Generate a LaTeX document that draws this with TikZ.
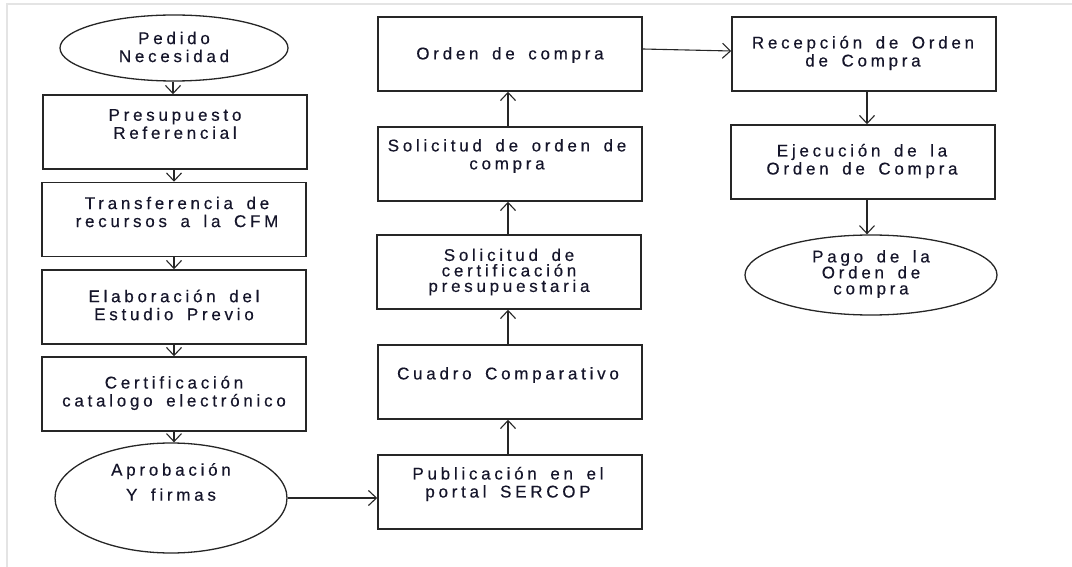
\documentclass[tikz,border=0pt]{standalone}
\usepackage{fontspec}
\setmainfont{Liberation Sans}
\newfontfamily\lspfont[LetterSpace=22,WordSpace=1.6,FakeBold=0.4]{Liberation Sans}
\usetikzlibrary{shapes.geometric,arrows.meta}
\definecolor{edge}{HTML}{262626}
\definecolor{ink}{HTML}{15152A}
\definecolor{frame}{HTML}{E4E4E4}
\tikzset{
  stepbox/.style={draw=edge,line width=1.5pt,rectangle,minimum width=264pt,minimum height=74pt,inner sep=0pt},
  oval/.style={draw=edge,line width=1.3pt,ellipse,inner sep=0pt},
  txt/.style={align=center,text=ink,font=\lspfont\fontsize{17pt}{18pt}\selectfont,inner sep=0pt},
  flow/.style={draw=edge,line width=1.1pt,-{Straight Barb[length=8pt,width=15pt,line width=1.1pt]}}
}
\begin{document}
\begin{tikzpicture}[x=1pt,y=-1pt]
\useasboundingbox (0,0) rectangle (1072,567);
\draw[frame,line width=2pt] (7,567) -- (7,4) -- (1072,4);
% left column
\node[oval,minimum width=228pt,minimum height=66pt] (e1) at (174,48) {};
\node[stepbox] (b1) at (175,132) {};
\node[stepbox] (b2) at (174,219.5) {};
\node[stepbox] (b3) at (174,307) {};
\node[stepbox] (b4) at (174,394) {};
\node[oval,minimum width=232pt,minimum height=110pt] (e2) at (171,498) {};
% middle column
\node[stepbox] (m1) at (510,54) {};
\node[stepbox] (m2) at (510,164) {};
\node[stepbox] (m3) at (509,272) {};
\node[stepbox] (m4) at (510,382) {};
\node[stepbox] (m5) at (510,492) {};
% right column
\node[stepbox] (r1) at (864,54) {};
\node[stepbox] (r2) at (863,162) {};
\node[oval,minimum width=252pt,minimum height=80pt] (r3) at (871,275) {};
% texts
\node[txt] (te1) at (174,47) {Pedido\\Necesidad};
\node[txt] (tb1) at (175,124) {Presupuesto\\Referencial};
\node[txt] (tb2) at (177,212) {Transferencia de\\recursos a la CFM};
\node[txt] (tb3) at (174,305) {Elaboración del\\Estudio Previo};
\node[txt] (tb4) at (174,393) {Certificación\\catalogo electrónico};
\node[txt,font=\lspfont\fontsize{17pt}{25pt}\selectfont] (te2) at (171,482) {Aprobación\\Y firmas};
\node[txt] (tm1) at (510,55) {Orden de compra};
\node[txt] (tm2) at (507,156) {Solicitud de orden de\\compra};
\node[txt,font=\lspfont\fontsize{17pt}{15.5pt}\selectfont] (tm3) at (509,272) {Solicitud de\\certificación\\presupuestaria};
\node[txt] (tm4) at (508,375) {Cuadro Comparativo};
\node[txt] (tm5) at (508,484) {Publicación en el\\portal SERCOP};
\node[txt] (tr1) at (863,53) {Recepción de Orden\\de Compra};
\node[txt] (tr2) at (862,161) {Ejecución de la\\Orden de Compra};
\node[txt,font=\lspfont\fontsize{17pt}{16pt}\selectfont] (tr3) at (871,274) {Pago de la\\Orden de\\compra};
% connectors
\draw[flow] ([xshift=-1pt]e1.south) -- ([xshift=-1pt]e1.south |- b1.north);
\draw[flow] ([xshift=-1pt]b1.south) -- ([xshift=-1pt]b1.south |- b2.north);
\draw[flow] (b2.south) -- (b2.south |- b3.north);
\draw[flow] (b3.south) -- (b3.south |- b4.north);
\draw[flow] (b4.south) -- (b4.south |- e2.north);
\draw[flow] (e2.east) -- (e2.east -| m5.west);
\draw[flow] ([xshift=-2pt]m5.north) -- ([xshift=-2pt]m5.north |- m4.south);
\draw[flow] ([xshift=-2pt]m4.north) -- ([xshift=-2pt]m4.north |- m3.south);
\draw[flow] ([xshift=-1pt]m3.north) -- ([xshift=-1pt]m3.north |- m2.south);
\draw[flow] ([xshift=-2pt]m2.north) -- ([xshift=-2pt]m2.north |- m1.south);
\draw[flow] ([yshift=5pt]m1.east) -- ([yshift=3pt]r1.west);
\draw[flow] ([xshift=3pt]r1.south) -- ([xshift=3pt]r1.south |- r2.north);
\draw[flow] ([xshift=4pt]r2.south) -- ([xshift=4pt]r2.south |- r3.north);
\end{tikzpicture}
\end{document}
